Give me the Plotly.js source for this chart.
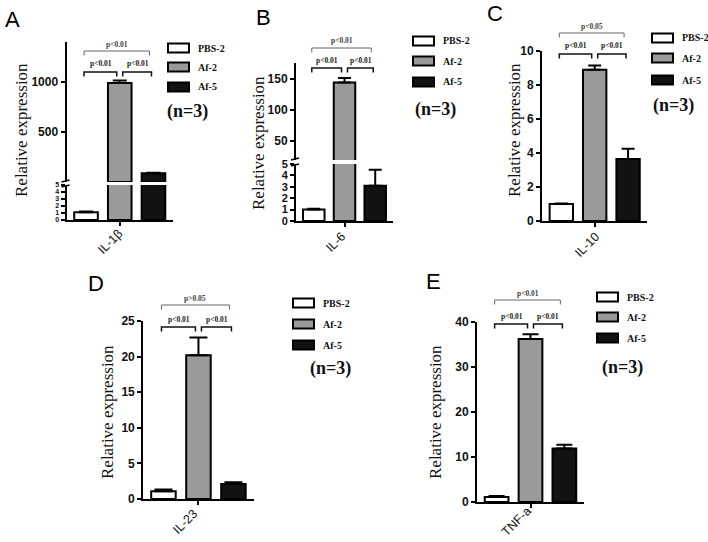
<!DOCTYPE html>
<html><head><meta charset="utf-8">
<script src="https://cdn.plot.ly/plotly-3.0.1.min.js"></script>
<style>html,body{margin:0;padding:0;background:#fff}#chart{width:708px;height:542px}</style>
</head><body><div id="chart"></div>
<script>
// ---------- data ----------
const seriesNames = ['PBS-2', 'Af-2', 'Af-5'];
const cytokines = ['IL-1β', 'IL-6', 'IL-10', 'IL-23', 'TNF-a'];
const panelLetters = ['A', 'B', 'C', 'D', 'E'];
const pbsMean = [1.1, 1.0, 1.0, 1.1, 1.1];
const pbsErr  = [0.1, 0.08, 0.03, 0.25, 0.25];
const af2Mean = [990, 144, 8.9, 20.2, 36.2];
const af2Err  = [25, 7, 0.25, 2.5, 1.1];
const af5Mean = [88, 3.1, 3.65, 2.1, 11.9];
const af5Err  = [4, 1.4, 0.6, 0.25, 0.8];
const pTop   = ['p<0.01', 'p<0.01', 'p<0.05', 'p>0.05', 'p<0.01'];
const pLeft  = ['p<0.01', 'p<0.01', 'p<0.01', 'p<0.01', 'p<0.01'];
const pRight = ['p<0.01', 'p<0.01', 'p<0.01', 'p<0.01', 'p<0.01'];
const sampleNote = '(n=3)';
const yTitleText = 'Relative expression';

// ---------- layout geometry (pixels) ----------
const W = 708, H = 542;
const fills = ['#ffffff', '#9a9a9a', '#121212'];
const BARGAP = 0.05, GROUPGAP = 0.3;
const geo = [
  {xl: 66.5, xr: 173, y0: 220, y1: 42, cap: 7, xlab: [110, 242],
   brk: {lowTop: 185, upBot: 182, lowRange: [0, 5], upRange: [0, 1400], lowTicks: [0,1,2,3,4,5], upTicks: [500, 1000], lowFont: 7},
   letter: [12, 20], title: [22, 130], leg: {x: 168, rows: [48, 67, 87], n: [187, 112]}, br: {top: 51, low: 72}},
  {xl: 296, xr: 393, y0: 221, y1: 63, cap: 6.5, xlab: [336, 242],
   brk: {lowTop: 164, upBot: 160, lowRange: [0, 5], upRange: [20, 175], lowTicks: [0,1,2,3,4,5], upTicks: [50, 100, 150], lowFont: 11},
   letter: [263, 18], title: [258, 143], leg: {x: 413, rows: [41, 61, 82], n: [435, 109]}, br: {top: 48, low: 68}},
  {xl: 542, xr: 647.4, y0: 221, y1: 51, cap: 6.5, range: [0, 10], ticks: [0,2,4,6,8,10], xlab: [587, 245],
   letter: [495, 13], title: [515, 130], leg: {x: 652, rows: [38, 58, 80], n: [673, 105]}, br: {top: 33, low: 54}},
  {xl: 143.2, xr: 253.7, y0: 499, y1: 321, cap: 9, range: [0, 25], ticks: [0,5,10,15,20,25], xlab: [185, 522],
   letter: [96, 283], title: [107, 412], leg: {x: 293, rows: [303, 324, 345], n: [330, 368]}, br: {top: 305, low: 327}},
  {xl: 477, xr: 584, y0: 502, y1: 322, cap: 8, range: [0, 40], ticks: [0,10,20,30,40], xlab: [516, 522],
   letter: [433, 282], title: [435, 412], leg: {x: 597, rows: [297, 317, 338], n: [622, 367]}, br: {top: 300, low: 324}}
];

const px = v => v / W;
const py = v => 1 - v / H;
const esc = t => t.replace(/</g, '&lt;').replace(/>/g, '&gt;');

const tickFont = {family: 'Liberation Sans, Arial, sans-serif', size: 12, color: '#111', weight: 'bold'};
const xTickFont = {family: 'Liberation Sans, Arial, sans-serif', size: 12.5, color: '#111'};
const serif = 'Liberation Serif, Times New Roman, serif';

const data = [], shapes = [], annotations = [];
const layout = {
  width: W, height: H, margin: {l: 0, r: 0, t: 0, b: 0},
  paper_bgcolor: '#fff', plot_bgcolor: 'rgba(0,0,0,0)',
  barmode: 'group', bargap: BARGAP, bargroupgap: GROUPGAP,
  showlegend: false, shapes, annotations
};

const means = [pbsMean, af2Mean, af5Mean];
const errs = [pbsErr, af2Err, af5Err];

let xi = 0, yi = 0;
function axName(prefix, i) { return i === 1 ? prefix : prefix + i; }
function yAxisObj(domainPx, range, ticks, xName, fontSize) {
  return {
    domain: [py(domainPx[0]), py(domainPx[1])], anchor: xName, range: range,
    showline: true, linewidth: 2, linecolor: '#000', ticks: 'outside', ticklen: 4, tickwidth: 2,
    tickcolor: '#000', tickmode: 'array', tickvals: ticks, showgrid: false, zeroline: false,
    tickfont: Object.assign({}, tickFont, fontSize ? {size: fontSize} : {}), fixedrange: true
  };
}
function addBars(p, xName, yName, minShown) {
  for (let s = 0; s < 3; s++) {
    let v = means[s][p];
    if (minShown !== undefined && v <= minShown) v = null;
    data.push({
      type: 'bar', x: [cytokines[p]], y: [v], name: seriesNames[s],
      xaxis: xName, yaxis: yName, hoverinfo: 'skip',
      marker: {color: fills[s], line: {color: '#000', width: 2}},
      error_y: {type: 'data', symmetric: false, array: [errs[s][p]], arrayminus: [0],
                color: '#000', thickness: 2, width: geo[p].cap}
    });
  }
}

geo.forEach((g, p) => {
  xi++;
  const xName = axName('x', xi);
  const xKey = axName('xaxis', xi);
  let yLow;
  if (g.brk) {
    yi++; yLow = axName('y', yi);
    layout[axName('yaxis', yi)] = yAxisObj([g.y0, g.brk.lowTop], g.brk.lowRange, g.brk.lowTicks, xName, g.brk.lowFont);
    addBars(p, xName, yLow);
    yi++; const yUp = axName('y', yi);
    layout[axName('yaxis', yi)] = yAxisObj([g.brk.upBot, g.y1], g.brk.upRange, g.brk.upTicks, xName);
    addBars(p, xName, yUp, g.brk.lowRange[1]);
    // break marks
    [g.brk.lowTop + 1, g.brk.upBot - 1].forEach(yy => {
      shapes.push({type: 'line', xref: 'paper', yref: 'paper',
        x0: px(g.xl - 5), y0: py(yy + 1), x1: px(g.xl + 3), y1: py(yy - 1),
        line: {color: '#000', width: 1.5}});
    });
  } else {
    yi++; yLow = axName('y', yi);
    layout[axName('yaxis', yi)] = yAxisObj([g.y0, g.y1], g.range, g.ticks, xName);
    addBars(p, xName, yLow);
  }
  layout[xKey] = {
    domain: [px(g.xl), px(g.xr)], anchor: yLow, type: 'category', range: [-0.5, 0.5],
    showline: true, linewidth: 2, linecolor: '#000', ticks: 'outside', ticklen: 4, tickwidth: 2,
    tickcolor: '#000', showticklabels: false, showgrid: false, zeroline: false, fixedrange: true
  };
  // category label, rotated like the reference
  annotations.push({text: cytokines[p], x: px(g.xlab[0]), y: py(g.xlab[1]), xref: 'paper', yref: 'paper',
    showarrow: false, textangle: -45, xanchor: 'center', yanchor: 'middle', font: xTickFont});

  // panel letter
  annotations.push({text: panelLetters[p], x: px(g.letter[0]), y: py(g.letter[1]), xref: 'paper', yref: 'paper',
    showarrow: false, xanchor: 'center', yanchor: 'middle',
    font: {family: 'Liberation Sans, Arial, sans-serif', size: 22, color: '#000'}});
  // y title
  annotations.push({text: yTitleText, x: px(g.title[0]), y: py(g.title[1]), xref: 'paper', yref: 'paper',
    showarrow: false, textangle: -90, xanchor: 'center', yanchor: 'middle',
    font: {family: serif, size: 17, color: '#111'}});
  // legend
  g.leg.rows.forEach((ry, s) => {
    shapes.push({type: 'rect', xref: 'paper', yref: 'paper',
      x0: px(g.leg.x), x1: px(g.leg.x + 21), y0: py(ry + 4.5), y1: py(ry - 4.5),
      fillcolor: fills[s], line: {color: '#000', width: 2}});
    annotations.push({text: seriesNames[s], x: px(g.leg.x + 28), y: py(ry), xref: 'paper', yref: 'paper',
      showarrow: false, xanchor: 'left', yanchor: 'middle',
      font: {family: serif, size: 10, color: '#111', weight: 'bold'}});
  });
  annotations.push({text: sampleNote, x: px(g.leg.n[0]), y: py(g.leg.n[1]), xref: 'paper', yref: 'paper',
    showarrow: false, xanchor: 'center', yanchor: 'middle',
    font: {family: serif, size: 18, color: '#111', weight: 'bold'}});

  // significance brackets
  const U = g.xr - g.xl, mid = (g.xl + g.xr) / 2, slot = U * (1 - BARGAP) / 3;
  const c = [mid - slot, mid, mid + slot];
  const bracket = (xa, xb, yy, col, w) => {
    shapes.push({type: 'path', xref: 'paper', yref: 'paper',
      path: `M ${px(xa)} ${py(yy + 4.5)} L ${px(xa)} ${py(yy)} L ${px(xb)} ${py(yy)} L ${px(xb)} ${py(yy + 4.5)}`,
      line: {color: col, width: w}});
  };
  const plab = (t, xx, yy, col) => annotations.push({text: esc(t), x: px(xx), y: py(yy), xref: 'paper', yref: 'paper',
    showarrow: false, xanchor: 'center', yanchor: 'middle',
    font: {family: serif, size: 7.5, color: col, weight: 'bold'}});
  bracket(c[0] - 2, c[2] - 4, g.br.top, '#666', 1);
  bracket(c[0] - 2, c[1] - 3, g.br.low, '#111', 1.5);
  bracket(c[1] + 3, c[2] - 2, g.br.low, '#111', 1.5);
  plab(pTop[p], (c[0] + c[2]) / 2 - 3, g.br.top - 7, '#444');
  plab(pLeft[p], (c[0] + c[1]) / 2 - 2, g.br.low - 8, '#222');
  plab(pRight[p], (c[1] + c[2]) / 2 + 1, g.br.low - 8, '#222');
});

Plotly.newPlot('chart', data, layout, {displayModeBar: false, staticPlot: true});
</script>
</body></html>
